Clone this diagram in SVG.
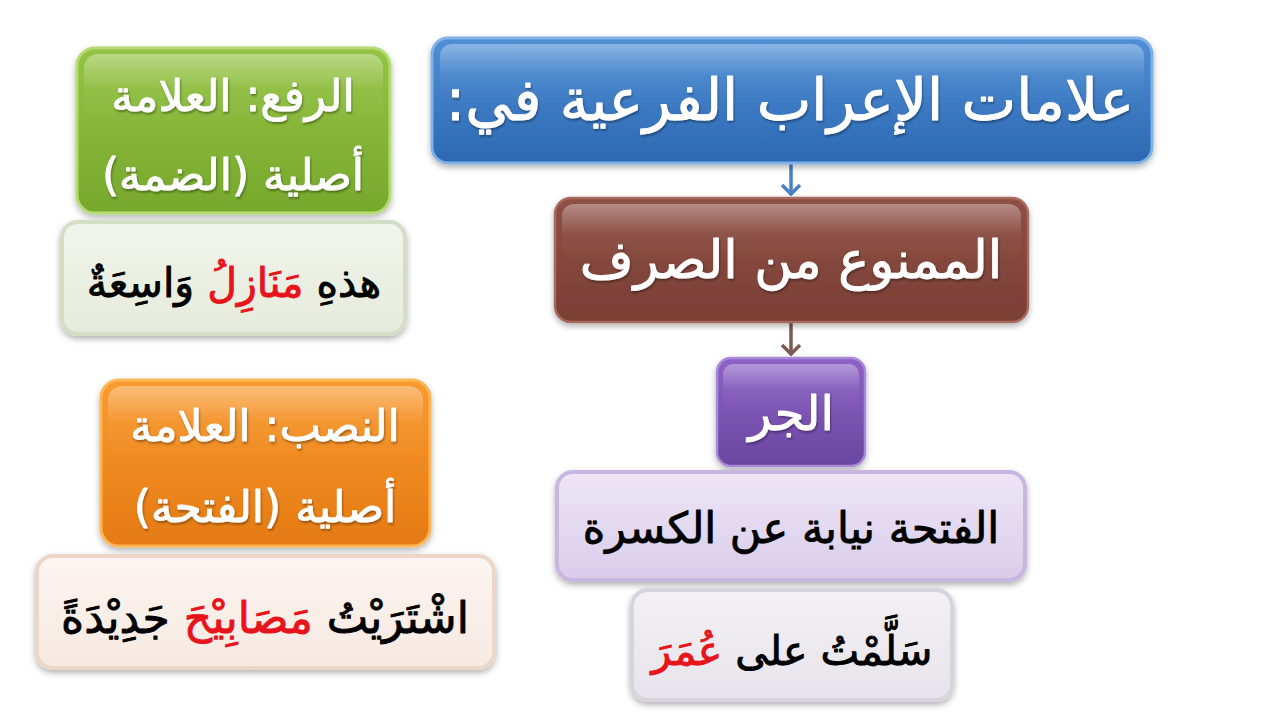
<svg xmlns="http://www.w3.org/2000/svg" width="1280" height="720" viewBox="0 0 1280 720">
<style>
.t{font-family:"DejaVu Sans",sans-serif;text-anchor:middle;direction:rtl;stroke-width:0.9;stroke-linejoin:round}
.w{fill:#ffffff;stroke:#ffffff}
.k{fill:#000000;stroke:#000000}
.r{fill:#e8141c;stroke:#e8141c}
</style>
<defs>
<filter id="sh" x="-10%" y="-10%" width="120%" height="130%">
<feDropShadow dx="0" dy="3" stdDeviation="3" flood-color="#000" flood-opacity="0.3"/>
</filter>
<filter id="tsh" x="-5%" y="-10%" width="110%" height="130%">
<feDropShadow dx="1" dy="2" stdDeviation="1.2" flood-color="#000" flood-opacity="0.35"/>
</filter>
<linearGradient id="gBlue" x1="0" y1="0" x2="0" y2="1"><stop offset="0" stop-color="#4f8fd6"/><stop offset="1" stop-color="#2c68b2"/></linearGradient>
<linearGradient id="gBrown" x1="0" y1="0" x2="0" y2="1"><stop offset="0" stop-color="#8f5045"/><stop offset="1" stop-color="#7a3e35"/></linearGradient>
<linearGradient id="gPurple" x1="0" y1="0" x2="0" y2="1"><stop offset="0" stop-color="#8e62c6"/><stop offset="1" stop-color="#6a46a0"/></linearGradient>
<linearGradient id="gLav" x1="0" y1="0" x2="0" y2="1"><stop offset="0" stop-color="#ede6f6"/><stop offset="1" stop-color="#d9cceb"/></linearGradient>
<linearGradient id="gGray" x1="0" y1="0" x2="0" y2="1"><stop offset="0" stop-color="#f3f1f5"/><stop offset="1" stop-color="#e6e3ea"/></linearGradient>
<linearGradient id="gGreen" x1="0" y1="0" x2="0" y2="1"><stop offset="0" stop-color="#94c444"/><stop offset="1" stop-color="#76a82c"/></linearGradient>
<linearGradient id="gLGreen" x1="0" y1="0" x2="0" y2="1"><stop offset="0" stop-color="#f1f4eb"/><stop offset="1" stop-color="#e5ebdc"/></linearGradient>
<linearGradient id="gOrange" x1="0" y1="0" x2="0" y2="1"><stop offset="0" stop-color="#f99a30"/><stop offset="1" stop-color="#e57a12"/></linearGradient>
<linearGradient id="gPeach" x1="0" y1="0" x2="0" y2="1"><stop offset="0" stop-color="#fcf5f1"/><stop offset="1" stop-color="#f6e9e1"/></linearGradient>
<linearGradient id="gloss" x1="0" y1="0" x2="0" y2="1"><stop offset="0" stop-color="#fff" stop-opacity="0.35"/><stop offset="0.5" stop-color="#fff" stop-opacity="0.05"/><stop offset="1" stop-color="#fff" stop-opacity="0"/></linearGradient>
<marker id="aBlue" viewBox="0 0 14 22" refX="12" refY="11" markerWidth="14" markerHeight="22" markerUnits="userSpaceOnUse" orient="auto">
<path d="M2,2 L11,11 L2,20" fill="none" stroke="#4a80c4" stroke-width="3.5"/></marker>
<marker id="aBrown" viewBox="0 0 14 22" refX="12" refY="11" markerWidth="14" markerHeight="22" markerUnits="userSpaceOnUse" orient="auto">
<path d="M2,2 L11,11 L2,20" fill="none" stroke="#7a5a52" stroke-width="3.5"/></marker>
</defs>
<rect width="1280" height="720" fill="#ffffff"/>

<g id="connectors">
<line x1="791" y1="164" x2="791" y2="195" stroke="#4a80c4" stroke-width="3.5" marker-end="url(#aBlue)"/>
<line x1="791" y1="323" x2="791" y2="355" stroke="#7a5a52" stroke-width="3.5" marker-end="url(#aBrown)"/>
</g>

<g id="node-title">
<rect x="432" y="38" width="720" height="125" rx="16" fill="url(#gBlue)" stroke="#7fb0e6" stroke-width="3" filter="url(#sh)"/>
<rect x="440" y="44" width="704" height="60" rx="12" fill="url(#gloss)"/>
<text class="t w" x="790" y="120" font-size="58" filter="url(#tsh)">علامات الإعراب الفرعية في:</text>
</g>

<g id="node-mamnoo">
<rect x="555" y="198" width="473" height="124" rx="16" fill="url(#gBrown)" stroke="#a86a5e" stroke-width="2.5" filter="url(#sh)"/>
<rect x="562" y="204" width="459" height="58" rx="12" fill="url(#gloss)"/>
<text class="t w" x="791" y="278" font-size="52" filter="url(#tsh)">الممنوع من الصرف</text>
</g>

<g id="node-jarr">
<rect x="717" y="358" width="148" height="108" rx="14" fill="url(#gPurple)" stroke="#a98ad6" stroke-width="2.5" filter="url(#sh)"/>
<rect x="723" y="364" width="136" height="50" rx="10" fill="url(#gloss)"/>
<text class="t w" x="791" y="430" font-size="48" filter="url(#tsh)">الجر</text>
</g>

<g id="node-fatha">
<rect x="557" y="472" width="468" height="108" rx="16" fill="url(#gLav)" stroke="#c7b6df" stroke-width="4" filter="url(#sh)"/>
<text class="t k" x="791" y="543" font-size="43">الفتحة نيابة عن الكسرة</text>
</g>

<g id="node-ex-jarr">
<rect x="632" y="590" width="320" height="110" rx="16" fill="url(#gGray)" stroke="#d8d4de" stroke-width="4" filter="url(#sh)"/>
<text class="t k" x="792" y="665" font-size="41">سَلَّمْتُ على <tspan class="r">عُمَرَ</tspan></text>
</g>

<g id="node-raf">
<rect x="77" y="48" width="313" height="165" rx="18" fill="url(#gGreen)" stroke="#b4da70" stroke-width="3" filter="url(#sh)"/>
<rect x="84" y="54" width="299" height="70" rx="14" fill="url(#gloss)"/>
<text class="t w" x="233" y="111" font-size="44" filter="url(#tsh)">الرفع: العلامة</text>
<text class="t w" x="233" y="190" font-size="44" filter="url(#tsh)">أصلية (الضمة)</text>
</g>

<g id="node-ex-raf">
<rect x="62" y="222" width="343" height="112" rx="16" fill="url(#gLGreen)" stroke="#d3dec4" stroke-width="4" filter="url(#sh)"/>
<text class="t k" x="234" y="297" font-size="41">هذهِ <tspan class="r">مَنَازِلُ</tspan> وَاسِعَةٌ</text>
</g>

<g id="node-nasb">
<rect x="101" y="380" width="329" height="166" rx="18" fill="url(#gOrange)" stroke="#ffb457" stroke-width="3" filter="url(#sh)"/>
<rect x="108" y="386" width="315" height="70" rx="14" fill="url(#gloss)"/>
<text class="t w" x="265" y="441" font-size="44" filter="url(#tsh)">النصب: العلامة</text>
<text class="t w" x="265" y="522" font-size="44" filter="url(#tsh)">أصلية (الفتحة)</text>
</g>

<g id="node-ex-nasb">
<rect x="37" y="556" width="457" height="112" rx="16" fill="url(#gPeach)" stroke="#ecd6c8" stroke-width="4" filter="url(#sh)"/>
<text class="t k" x="265" y="633" font-size="44">اشْتَرَيْتُ <tspan class="r">مَصَابِيْحَ</tspan> جَدِيْدَةً</text>
</g>
</svg>
